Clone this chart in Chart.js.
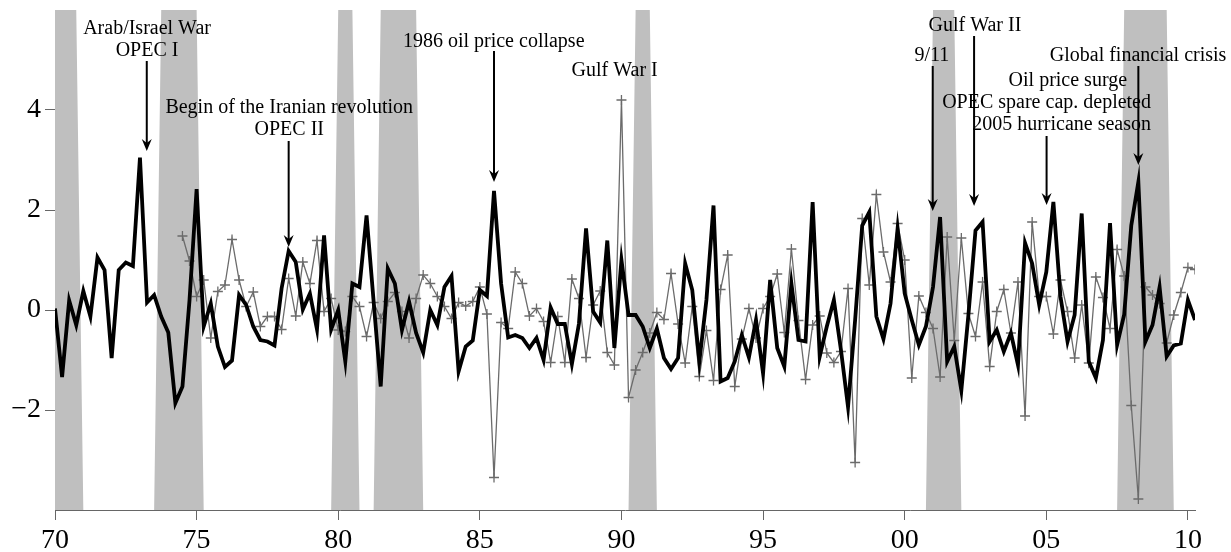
<!DOCTYPE html>
<html>
<head>
<meta charset="utf-8">
<script src="https://cdn.jsdelivr.net/npm/chart.js@4/dist/chart.umd.min.js"></script>
<style>
  body { margin: 0; background: #fff; }
  #wrap { width: 1231px; height: 552px; }
</style>
</head>
<body>
<div id="wrap"><canvas id="grafico"></canvas></div>
<script>
// Quarterly series, first quarter of each year = .00
const startBlack = 1970.0;
const blackSeries = [
  0.03, -1.34, 0.19, -0.30,
  0.38, -0.13, 1.05, 0.80,
  -0.96, 0.80, 0.95, 0.88,
  3.05, 0.15, 0.30, -0.13,
  -0.45, -1.86, -1.53, 0.20,
  2.42, -0.33, 0.13, -0.73,
  -1.14, -1.01, 0.30, 0.10,
  -0.33, -0.60, -0.63, -0.71,
  0.43, 1.18, 0.96, 0.01,
  0.33, -0.39, 1.49, -0.39,
  0.00, -1.03, 0.53, 0.46,
  1.89, 0.17, -1.53, 0.83,
  0.53, -0.40, 0.17, -0.46,
  -0.85, 0.00, -0.30, 0.46,
  0.68, -1.23, -0.73, -0.61,
  0.40, 0.28, 2.38, 0.53,
  -0.55, -0.50, -0.56, -0.76,
  -0.56, -1.00, 0.05, -0.28,
  -0.28, -1.08, -0.27, 1.63,
  -0.03, -0.25, 1.39, -0.76,
  1.00, -0.10, -0.10, -0.33,
  -0.76, -0.37, -0.96, -1.18,
  -0.96, 0.93, 0.40, -1.03,
  0.20, 2.09, -1.43, -1.36,
  -1.03, -0.50, -0.95, -0.20,
  -1.27, 0.60, -0.76, -1.13,
  0.53, -0.60, -0.63, 2.16,
  -0.93, -0.33, 0.20, -0.80,
  -1.94, -0.20, 1.69, 1.96,
  -0.13, -0.58, 0.13, 1.63,
  0.33, -0.20, -0.70, -0.33,
  0.46, 1.86, -1.03, -0.73,
  -1.61, -0.10, 1.59, 1.76,
  -0.63, -0.40, -0.83, -0.46,
  -1.10, 1.34, 0.93, 0.10,
  0.76, 2.16, 0.27, -0.63,
  -0.10, 1.93, -1.03, -1.36,
  -0.60, 1.74, -0.70, -0.09,
  1.69, 2.56, -0.63, -0.30,
  0.46, -0.93, -0.71, -0.67,
  0.20, -0.20
];

const startGrey = 1974.5;
const greySeries = [
  1.48, 0.98,
  0.27, 0.60, -0.56, 0.37,
  0.50, 1.41, 0.60, 0.07,
  0.36, -0.33, -0.13, -0.13,
  -0.39, 0.63, -0.12, 0.96,
  0.53, 1.39, -0.03, 0.23,
  -0.40, -0.43, 0.27, 0.07,
  -0.53, 0.15, -0.17, 0.17,
  0.35, -0.03, -0.56, 0.23,
  0.70, 0.53, 0.27, 0.07,
  -0.17, 0.15, 0.08, 0.17,
  0.46, -0.08, -3.35, -0.25,
  -0.37, 0.76, 0.53, -0.12,
  0.03, -0.23, -1.05, -0.13,
  -1.05, 0.62, 0.23, -0.95,
  0.10, 0.38, -0.85, -1.10,
  4.20, -1.75, -1.20, -0.85,
  -0.46, -0.05, -0.19, 0.73,
  -0.28, -1.06, 0.07, -1.33,
  -0.41, -1.41, 0.41, 1.10,
  -1.53, -0.58, 0.03, -0.56,
  0.03, 0.27, 0.72, -0.45,
  1.22, -0.21, -1.39, -0.30,
  -0.12, -0.86, -1.05, -0.83,
  0.43, -3.05, 1.83, 0.50,
  2.31, 1.16, 0.56, 1.73,
  1.00, -1.36, 0.28, -0.05,
  -0.37, -1.34, 1.46, -0.61,
  1.44, -0.07, -0.53, 0.56,
  -1.13, -0.03, 0.41, -0.46,
  0.56, -2.12, 1.76, 0.27,
  0.27, -0.48, 0.60, -0.03,
  -0.96, 0.10, -1.06, 0.66,
  0.25, -0.37, 1.21, 0.68,
  -1.91, -3.78, 0.46, 0.30,
  0.13, -0.66, -0.10, 0.35,
  0.85, 0.81
];

// Recessões (primeiro e último trimestre)
const recessionStart = [1970.0, 1973.75, 1980.0, 1981.5, 1990.5, 2001.0, 2007.75];
const recessionEnd   = [1970.75, 1975.0, 1980.5, 1982.75, 1991.0, 2001.75, 2009.25];

const xTickValues = [1970, 1975, 1980, 1985, 1990, 1995, 2000, 2005, 2010];
const xTickLabels = ['70', '75', '80', '85', '90', '95', '00', '05', '10'];
const yTickValues = [-2, 0, 2, 4];

const eventTexts = [
  ['Arab/Israel War', 'OPEC I'],
  ['Begin of the Iranian revolution', 'OPEC II'],
  ['1986 oil price collapse'],
  ['Gulf War I'],
  ['9/11'],
  ['Gulf War II'],
  ['Oil price surge', 'OPEC spare cap. depleted', '2005 hurricane season'],
  ['Global financial crisis']
];

// posição das notas (em coordenadas dos eixos)
const eventPlacement = [
  { tx: [1973.25, 1973.25], ty: 5.52, arrow: [1973.24, 4.98, 3.18] },
  { tx: [1978.27, 1978.27], ty: 3.94, arrow: [1978.25, 3.38, 1.26] },
  { tx: [1985.49], ty: 5.26, arrow: [1985.5, 5.18, 2.56] },
  { tx: [1989.76], ty: 4.68, arrow: null },
  { tx: [2000.96], ty: 4.98, arrow: [2000.99, 4.88, 1.98] },
  { tx: [2002.48], ty: 5.58, arrow: [2002.45, 5.48, 2.08] },
  { tx: [2005.76, 2005.01, 2005.54], ty: 4.48, arrow: [2005.01, 3.48, 2.10] },
  { tx: [2008.24], ty: 4.98, arrow: [2008.25, 4.88, 2.90] }
];

const yMin = -4, yMax = 6;

function toPoints(start, values) {
  return values.map((v, i) => ({ x: start + i * 0.25, y: v }));
}

// indicador de recessão trimestral, desenhado como área
const recessionPoints = [];
for (let i = 0; i < blackSeries.length; i++) {
  const t = startBlack + i * 0.25;
  let inRec = false;
  recessionStart.forEach((s, k) => {
    if (t >= s - 1e-6 && t <= recessionEnd[k] + 1e-6) inRec = true;
  });
  recessionPoints.push({ x: t, y: inRec ? yMax : yMin });
}

const serif = '"Liberation Serif", "Times New Roman", serif';

const eventsPlugin = {
  id: 'events',
  afterDatasetsDraw(chart) {
    const { ctx, scales: { x, y } } = chart;
    ctx.save();
    ctx.font = '20px ' + serif;
    ctx.fillStyle = '#000';
    ctx.strokeStyle = '#000';
    ctx.textAlign = 'center';
    ctx.textBaseline = 'alphabetic';
    eventTexts.forEach((lines, k) => {
      const p = eventPlacement[k];
      const base = y.getPixelForValue(p.ty);
      lines.forEach((line, i) => {
        ctx.fillText(line, x.getPixelForValue(p.tx[i]), base + i * 22);
      });
      if (p.arrow) {
        const ax = x.getPixelForValue(p.arrow[0]);
        const y1 = y.getPixelForValue(p.arrow[1]);
        const y2 = y.getPixelForValue(p.arrow[2]);
        ctx.lineWidth = 2;
        ctx.beginPath();
        ctx.moveTo(ax, y1);
        ctx.lineTo(ax, y2 - 6);
        ctx.stroke();
        ctx.beginPath();
        ctx.moveTo(ax, y2);
        ctx.lineTo(ax - 5, y2 - 12);
        ctx.lineTo(ax, y2 - 8);
        ctx.lineTo(ax + 5, y2 - 12);
        ctx.closePath();
        ctx.fill();
      }
    });
    ctx.restore();
  }
};

new Chart(document.getElementById('grafico'), {
  type: 'line',
  data: {
    datasets: [
      {
        data: toPoints(startBlack, blackSeries),
        borderColor: '#000',
        borderWidth: 3.8,
        pointRadius: 0,
        tension: 0,
        order: 1
      },
      {
        data: toPoints(startGrey, greySeries),
        borderColor: '#6b6b6b',
        borderWidth: 1.3,
        pointStyle: 'cross',
        pointRadius: 5,
        pointBorderWidth: 1.3,
        pointBorderColor: '#6b6b6b',
        tension: 0,
        order: 2
      },
      {
        data: recessionPoints,
        borderWidth: 0,
        borderColor: 'rgba(0,0,0,0)',
        backgroundColor: '#bfbfbf',
        pointRadius: 0,
        fill: 'start',
        tension: 0,
        order: 3
      }
    ]
  },
  options: {
    responsive: true,
    maintainAspectRatio: false,
    animation: false,
    events: [],
    layout: { padding: { top: 10, right: 36, left: 0, bottom: 0 } },
    plugins: { legend: { display: false }, tooltip: { enabled: false } },
    scales: {
      x: {
        type: 'linear',
        min: 1970,
        max: 2010.25,
        afterBuildTicks: s => { s.ticks = xTickValues.map(v => ({ value: v })); },
        afterFit: s => { s.height = 42; s.paddingLeft = 0; s.paddingRight = 0; },
        ticks: {
          autoSkip: false,
          maxRotation: 0,
          padding: 4,
          color: '#000',
          font: { family: serif, size: 28 },
          callback: v => xTickLabels[xTickValues.indexOf(v)]
        },
        grid: { display: true, drawOnChartArea: false, drawTicks: true, tickLength: 10, color: '#666' },
        border: { display: true, color: '#666', width: 1 }
      },
      y: {
        min: yMin,
        max: yMax,
        afterBuildTicks: s => { s.ticks = yTickValues.map(v => ({ value: v })); },
        afterFit: s => { s.width = 55; s.paddingTop = 0; s.paddingBottom = 0; },
        ticks: {
          padding: 4,
          color: '#000',
          font: { family: serif, size: 28 },
          callback: v => String(v).replace('-', '\u2212')
        },
        grid: { display: true, drawOnChartArea: false, drawTicks: true, tickLength: 10, color: '#666' },
        border: { display: false }
      }
    }
  },
  plugins: [eventsPlugin]
});
</script>
</body>
</html>
